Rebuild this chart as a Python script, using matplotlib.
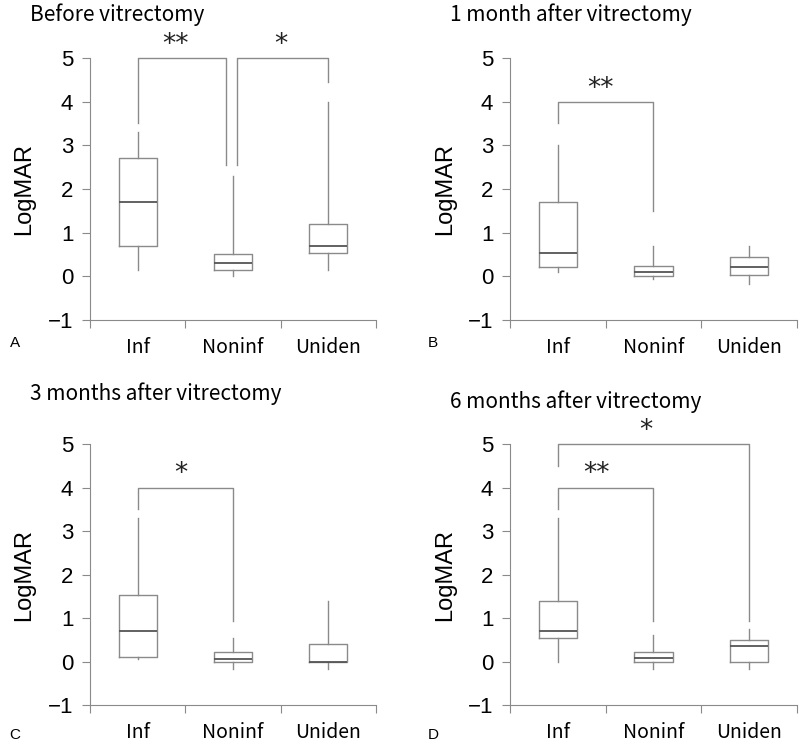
import matplotlib.pyplot as plt

# Groups and panel titles
groups = ["Inf", "Noninf", "Uniden"]
titles = ["Before vitrectomy", "1 month after vitrectomy",
          "3 months after vitrectomy", "6 months after vitrectomy"]
letters = ["A", "B", "C", "D"]

# Box stats per panel: (whisker low, Q1, median, Q3, whisker high) for Inf, Noninf, Uniden
before = [(0.15, 0.70, 1.70, 2.70, 3.30),
          (0.00, 0.15, 0.30, 0.52, 2.30),
          (0.15, 0.53, 0.70, 1.20, 4.00)]
month1 = [(0.10, 0.22, 0.53, 1.70, 3.00),
          (-0.07, 0.00, 0.10, 0.23, 0.70),
          (-0.17, 0.02, 0.22, 0.45, 0.70)]
month3 = [(0.05, 0.10, 0.70, 1.52, 3.30),
          (-0.17, 0.00, 0.05, 0.23, 0.53),
          (-0.17, 0.00, 0.00, 0.40, 1.40)]
month6 = [(0.00, 0.53, 0.70, 1.40, 3.30),
          (-0.17, 0.00, 0.08, 0.23, 0.60),
          (-0.17, 0.00, 0.35, 0.50, 0.75)]
panels = [before, month1, month3, month6]

# Significance brackets: (x left, x right, bar height, left end, right end, label, label x)
brackets = [
    [(0.5, 1.43, 5.0, 3.5, 2.55, "**", 0.9), (1.54, 2.5, 5.0, 2.55, 4.45, "*", 2.0)],
    [(0.5, 1.5, 4.0, 3.5, 1.5, "**", 0.95)],
    [(0.5, 1.5, 4.0, 3.5, 0.93, "*", 0.95)],
    [(0.5, 2.5, 5.0, 4.5, 0.93, "*", 1.42), (0.5, 1.5, 4.0, 3.5, 0.93, "**", 0.9)],
]

# Axes rectangles [left, bottom, width, height] in figure fraction
rects = [[0.1125, 0.5716, 0.3575, 0.3508],
         [0.6375, 0.5716, 0.3585, 0.3508],
         [0.1125, 0.0562, 0.3575, 0.3494],
         [0.6375, 0.0562, 0.3585, 0.3494]]
title_pos = [(0.0375, 0.981), (0.5625, 0.981), (0.0375, 0.473), (0.5625, 0.462)]
ylabel_x = [0.016, 0.543, 0.016, 0.543]
letter_pos = [(0.012, 0.541), (0.535, 0.541), (0.012, 0.016), (0.535, 0.016)]

jp = ["Noto Sans CJK JP", "DejaVu Sans"]
num = "Liberation Sans"
gray = "#8a8a8a"

fig = plt.figure(figsize=(8, 7.47), dpi=100)

for i in range(4):
    ax = fig.add_axes(rects[i])
    stats = []
    for name, (lo, q1, med, q3, hi) in zip(groups, panels[i]):
        stats.append(dict(label=name, whislo=lo, q1=q1, med=med, q3=q3, whishi=hi, fliers=[]))
    ax.bxp(stats, positions=[0.5, 1.5, 2.5], widths=0.4, showcaps=False,
           boxprops=dict(color=gray, linewidth=1.0),
           whiskerprops=dict(color=gray, linewidth=1.0),
           medianprops=dict(color="#555555", linewidth=1.3))

    for (x1, x2, y, yl, yr, lab, lx) in brackets[i]:
        ax.plot([x1, x1, x2, x2], [yl, y, y, yr], color=gray, linewidth=1.0, clip_on=False)
        ax.text(lx, y + 0.3, lab, ha="center", va="center", fontsize=19,
                family="DejaVu Sans", color="#222222")

    ax.set_xlim(0, 3)
    ax.set_ylim(-1, 5)
    ax.set_yticks(range(-1, 6))
    ax.set_yticklabels(["\u22121", "0", "1", "2", "3", "4", "5"], fontsize=16, family=num)
    ax.set_xticks([0, 1, 2, 3])
    ax.set_xticklabels([])
    ax.set_xticks([0.5, 1.5, 2.5], minor=True)
    ax.set_xticklabels(groups, minor=True, fontsize=14, family=jp)
    ax.tick_params(axis="x", which="minor", length=0, pad=12)
    ax.tick_params(axis="x", which="major", length=6, color=gray)
    ax.tick_params(axis="y", length=6, color=gray, pad=6)
    for s in ["top", "right"]:
        ax.spines[s].set_visible(False)
    for s in ["left", "bottom"]:
        ax.spines[s].set_color(gray)

    fig.text(ylabel_x[i], rects[i][1] + rects[i][3] / 2, "LogMAR", rotation=90,
             ha="left", va="center", fontsize=17, family=num)
    fig.text(title_pos[i][0], title_pos[i][1], titles[i], ha="left", va="center",
             fontsize=15, family=jp)
    fig.text(letter_pos[i][0], letter_pos[i][1], letters[i], ha="left", va="center",
             fontsize=11, family=num)

fig.savefig("out.png", dpi=100, facecolor="white")
